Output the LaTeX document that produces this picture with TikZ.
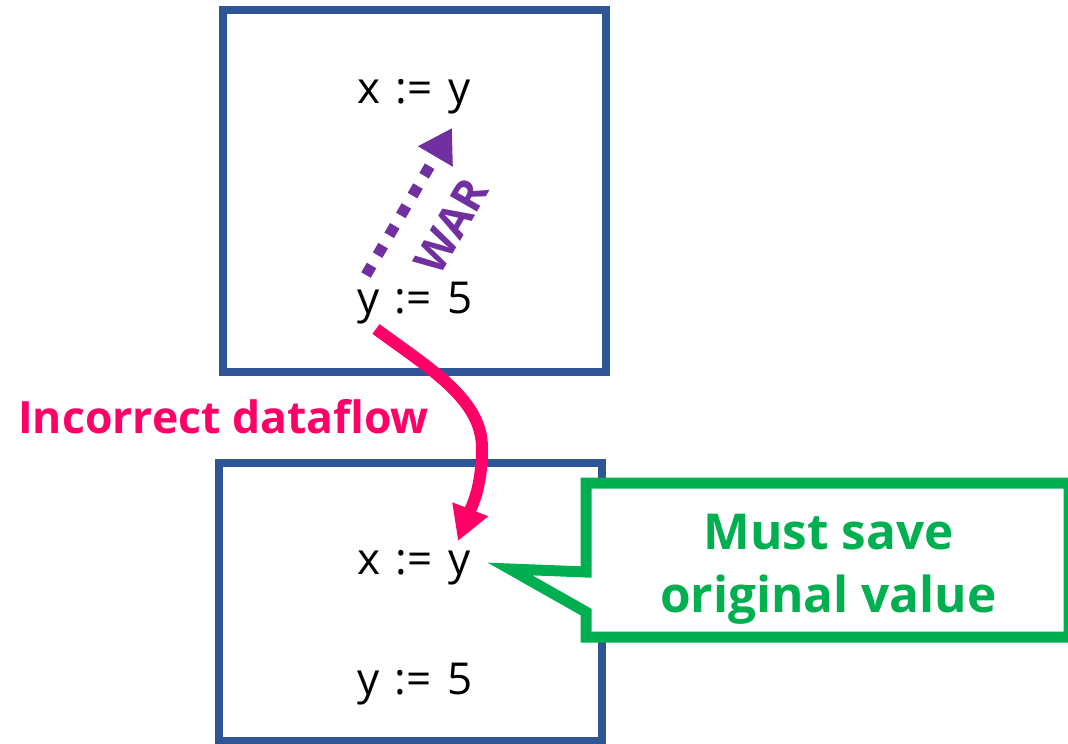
\documentclass[tikz,border=0pt]{standalone}
\usepackage{fontspec}
\setmainfont{Open Sans}
\usetikzlibrary{arrows.meta}
\definecolor{boxblue}{HTML}{2F5597}
\definecolor{flowpink}{HTML}{FF0066}
\definecolor{warpurple}{HTML}{7030A0}
\definecolor{notegreen}{HTML}{00B050}
\newcommand{\gap}{\hspace{15.5pt}}
\begin{document}
\begin{tikzpicture}[x=1pt,y=-1pt,
  blockbox/.style={draw=boxblue, line width=8pt, inner sep=0pt},
  stmt/.style={anchor=base west, inner sep=0pt, font=\fontsize{44}{52}\selectfont},
  flowlabel/.style={inner sep=0pt, text=flowpink, font=\fontsize{44.5}{52}\selectfont\bfseries},
  notetext/.style={anchor=base, inner sep=0pt, text=notegreen, font=\fontsize{49.5}{62}\selectfont\bfseries},
  flowarrow/.style={draw=flowpink, line width=12pt, -{Triangle[length=34pt,width=36pt]}},
  wararrow/.style={draw=warpurple, line width=11pt, dash pattern=on 11pt off 12pt, -{Triangle[length=33pt,width=38pt]}},
]
\useasboundingbox (0,0) rectangle (1068,744);

% the two basic blocks
\node[blockbox, minimum width=383pt, minimum height=362pt] (topblk) at (414.5,191) {};
\node[blockbox, minimum width=383pt, minimum height=278pt] (botblk) at (410.5,602) {};

% statements
\node[stmt] (tx) at (357,103) {x\gap:=\gap y};
\node[stmt] (ty) at (357,313) {y\gap:=\gap 5};
\node[stmt] (bx) at (357,574) {x\gap:=\gap y};
\node[stmt] (by) at (357,694) {y\gap:=\gap 5};

% write-after-read dependency inside the top block
\coordinate (warfrom) at (366,275);
\coordinate (warto) at (452,128);
\path[wararrow] (warfrom) -- (warto);
\node[rotate=60, inner sep=0pt, text=warpurple, font=\fontsize{44}{48}\selectfont\bfseries] (war) at (451,226) {WAR};

% callout
\draw[draw=notegreen, fill=white, line width=11pt, miter limit=10, line join=miter]
  (586,572) -- (510,569) coordinate (tip) -- (586,612) -- (586,637) -- (1069,637) -- (1069,483) -- (586,483) -- cycle;
\node[notetext] (notetop) at (828.5,549) {Must save};
\node[notetext] (notebot) at (828.5,612) {original value};

% incorrect dataflow between the blocks
\coordinate (flowfrom) at (376,329);
\coordinate (flowto) at (458,541);
\path[flowarrow] (flowfrom) .. controls (432,370) and (482,400) .. (482,448)
  .. controls (482,490) and (470,510) .. (flowto);
\node[flowlabel, anchor=base west] (flowtxt) at (18,433) {Incorrect dataflow};
\end{tikzpicture}
\end{document}
